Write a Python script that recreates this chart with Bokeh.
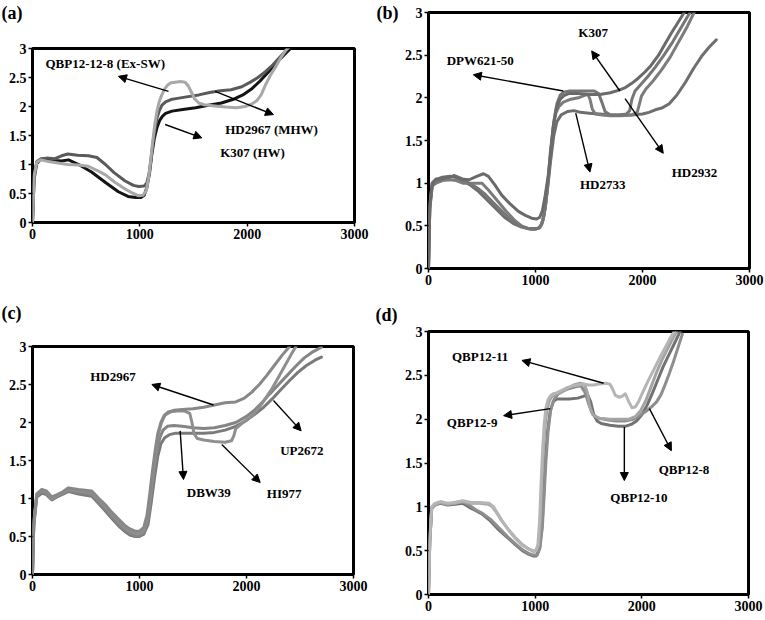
from bokeh.plotting import figure
from bokeh.models import Range1d, FixedTicker, Arrow, NormalHead, LinearAxis, ColumnDataSource, Title
from bokeh.layouts import column, row
from bokeh.core.properties import value
from bokeh.embed import file_html
from bokeh.resources import INLINE

# ---------------- axis ticks ----------------
x_ticks = [0, 1000, 2000, 3000]
x_tick_labels = ["0", "1000", "2000", "3000"]
y_ticks = [0, 0.5, 1, 1.5, 2, 2.5, 3]
y_tick_labels = ["0", "0.5", "1", "1.5", "2", "2.5", "3"]
panel_tags = ["(a)", "(b)", "(c)", "(d)"]

# ---------------- panel (a) ----------------
a_x_k307 = [0, 15, 40, 80, 130, 200, 270, 335, 430, 550, 680, 800, 890, 960, 1010, 1040, 1065, 1090, 1112, 1135,
            1160, 1185, 1210, 1240, 1300, 1400, 1520, 1640, 1760, 1880, 1960, 2040, 2120, 2200, 2280, 2350, 2420, 2450]
a_y_k307 = [0, 0.75, 1.02, 1.09, 1.1, 1.07, 1.06, 1.08, 1.0, 0.87, 0.69, 0.53, 0.45, 0.43, 0.43, 0.47, 0.6, 0.85, 1.18, 1.45,
            1.64, 1.76, 1.83, 1.88, 1.92, 1.95, 1.98, 2.02, 2.06, 2.13, 2.2, 2.3, 2.44, 2.6, 2.77, 2.9, 3.03, 3.08]
a_x_hd2967 = [0, 15, 40, 80, 130, 210, 270, 330, 420, 520, 600, 680, 760, 860, 940, 990, 1040, 1065, 1087, 1105,
              1120, 1140, 1160, 1180, 1205, 1240, 1290, 1350, 1450, 1550, 1650, 1750, 1850, 1950, 2030, 2100, 2170,
              2240, 2300, 2360, 2400]
a_y_hd2967 = [0, 0.8, 1.05, 1.1, 1.11, 1.1, 1.15, 1.18, 1.16, 1.15, 1.12, 1.0, 0.86, 0.72, 0.64, 0.62, 0.63, 0.68, 0.85, 1.1,
              1.35, 1.6, 1.8, 1.92, 2.02, 2.08, 2.12, 2.14, 2.17, 2.2, 2.24, 2.27, 2.29, 2.34, 2.42, 2.5, 2.6,
              2.72, 2.84, 2.96, 3.04]
a_x_qbp = [0, 15, 40, 80, 150, 250, 330, 430, 520, 600, 680, 770, 860, 940, 990, 1030, 1060, 1080, 1100, 1120,
           1140, 1160, 1180, 1205, 1230, 1260, 1290, 1330, 1380, 1420, 1450, 1480, 1510, 1550, 1600, 1700, 1800, 1900,
           1980, 2040, 2090, 2130, 2170, 2220, 2270, 2320, 2360, 2400]
a_y_qbp = [0, 0.8, 1.04, 1.08, 1.05, 1.02, 1.0, 0.99, 0.97, 0.9, 0.82, 0.69, 0.58, 0.5, 0.46, 0.47, 0.55, 0.75, 1.05, 1.4,
           1.7, 1.92, 2.08, 2.2, 2.3, 2.37, 2.41, 2.42, 2.43, 2.42, 2.36, 2.25, 2.13, 2.06, 2.03, 2.01, 1.99, 1.98,
           2.0, 2.04, 2.1, 2.2, 2.37, 2.55, 2.7, 2.86, 2.97, 3.05]
a_labels = ["QBP12-12-8 (Ex-SW)", "HD2967 (MHW)", "K307 (HW)"]
a_label_x = [121, 1795, 1749]
a_label_y = [2.74, 1.6, 1.2]
a_arrow_x0 = [1267, 1702, 1236]
a_arrow_y0 = [2.26, 2.26, 1.69]
a_arrow_x1 = [801, 2245, 1578]
a_arrow_y1 = [2.52, 1.86, 1.46]

# ---------------- panel (b) ----------------
b_x_dpw = [0, 12, 35, 70, 120, 180, 240, 300, 380, 450, 514, 560, 620, 684, 760, 840, 910, 964, 1010, 1040,
           1065, 1090, 1120, 1145, 1167, 1195, 1229, 1270, 1310, 1400, 1500, 1600, 1700, 1780, 1840, 1900, 1960,
           2020, 2080, 2150, 2210, 2270, 2330, 2390, 2430]
b_y_dpw = [0, 0.75, 1.0, 1.05, 1.05, 1.07, 1.08, 1.05, 1.04, 1.08, 1.11, 1.08, 0.98, 0.86, 0.76, 0.67, 0.62, 0.59, 0.58, 0.6,
           0.68, 0.85, 1.1, 1.4, 1.68, 1.88, 1.98, 2.03, 2.05, 2.05, 2.04, 2.04, 2.06, 2.09, 2.12, 2.17, 2.23,
           2.3, 2.38, 2.5, 2.63, 2.76, 2.88, 3.0, 3.06]
b_x_k307 = [0, 12, 35, 70, 130, 200, 240, 300, 380, 450, 520, 600, 680, 760, 840, 900, 950, 1000, 1040, 1070,
            1095, 1120, 1150, 1175, 1200, 1230, 1270, 1320, 1400, 1480, 1550, 1590, 1620, 1650, 1700, 1780, 1850,
            1880, 1900, 1930, 1980, 2050, 2120, 2200, 2280, 2350, 2420, 2470]
b_y_k307 = [0, 0.7, 0.98, 1.02, 1.05, 1.07, 1.09, 1.06, 1.0, 0.95, 0.88, 0.78, 0.68, 0.58, 0.51, 0.48, 0.46, 0.46, 0.48, 0.56,
            0.75, 1.05, 1.45, 1.75, 1.93, 2.03, 2.07, 2.08, 2.08, 2.08, 2.08, 2.05, 1.95, 1.84, 1.8, 1.8, 1.81,
            1.85, 1.98, 2.08, 2.15, 2.25, 2.36, 2.5, 2.65, 2.8, 2.95, 3.05]
b_x_hd2733 = [0, 12, 35, 70, 130, 200, 260, 320, 400, 500, 560, 640, 720, 800, 870, 930, 980, 1030, 1060, 1090,
              1115, 1140, 1165, 1190, 1220, 1260, 1320, 1400, 1460, 1490, 1510, 1530, 1560, 1620, 1700, 1800, 1900,
              1950, 1970, 1990, 2030, 2100, 2180, 2260, 2340, 2420, 2490]
b_y_hd2733 = [0, 0.7, 0.97, 1.0, 1.03, 1.04, 1.03, 1.0, 1.0, 1.0, 0.92, 0.8, 0.68, 0.57, 0.5, 0.47, 0.46, 0.47, 0.52, 0.7,
              1.0, 1.38, 1.65, 1.82, 1.9, 1.95, 1.98, 2.0, 2.03, 2.04, 1.98, 1.87, 1.81, 1.8, 1.79, 1.79, 1.8,
              1.83, 1.92, 2.02, 2.1, 2.2, 2.33, 2.48, 2.66, 2.84, 3.02]
b_x_hd2932 = [0, 12, 35, 70, 130, 200, 250, 320, 400, 470, 550, 630, 710, 790, 860, 920, 970, 1020, 1050, 1080,
              1110, 1140, 1170, 1200, 1240, 1300, 1360, 1420, 1500, 1600, 1700, 1800, 1900, 2000, 2060, 2120, 2180,
              2250, 2320, 2400, 2480, 2560, 2620, 2690]
b_y_hd2932 = [0, 0.72, 1.0, 1.04, 1.07, 1.08, 1.07, 1.03, 0.97, 0.9, 0.8, 0.7, 0.6, 0.53, 0.49, 0.47, 0.47, 0.47, 0.5, 0.62,
              0.9, 1.25, 1.55, 1.72, 1.8, 1.84, 1.85, 1.83, 1.82, 1.81, 1.8, 1.8, 1.8, 1.81, 1.83, 1.86, 1.88,
              1.93, 2.03, 2.18, 2.35, 2.5, 2.59, 2.68]
b_labels = ["DPW621-50", "K307", "HD2733", "HD2932"]
b_label_x = [170, 1400, 1416, 2273]
b_label_y = [2.44, 2.77, 0.98, 1.13]
b_arrow_x0 = [1260, 1789, 1376, 1837]
b_arrow_y0 = [2.08, 2.08, 1.82, 1.99]
b_arrow_x1 = [419, 1525, 1509, 2194]
b_arrow_y1 = [2.27, 2.55, 1.13, 1.35]

# ---------------- panel (c) ----------------
c_x_hd2967 = [0, 12, 40, 87, 130, 181, 230, 274, 336, 430, 554, 620, 679, 740, 804, 860, 910, 960, 1000, 1040,
              1070, 1095, 1120, 1145, 1170, 1200, 1230, 1270, 1320, 1400, 1500, 1600, 1700, 1800, 1900, 1980, 2050,
              2120, 2190, 2260, 2330, 2390, 2430]
c_y_hd2967 = [0, 0.7, 1.06, 1.12, 1.1, 1.02, 1.05, 1.08, 1.14, 1.12, 1.1, 1.0, 0.92, 0.82, 0.73, 0.65, 0.6, 0.57, 0.57, 0.62,
              0.78, 1.05, 1.35, 1.62, 1.85, 2.0, 2.09, 2.14, 2.16, 2.17, 2.18, 2.2, 2.23, 2.26, 2.27, 2.32, 2.4,
              2.5, 2.62, 2.75, 2.88, 2.98, 3.05]
c_x_hi977 = [0, 12, 40, 87, 130, 181, 230, 274, 336, 430, 554, 620, 679, 740, 804, 860, 910, 960, 1000, 1040,
             1070, 1100, 1125, 1150, 1175, 1205, 1240, 1290, 1350, 1420, 1470, 1490, 1510, 1540, 1600, 1700, 1800,
             1860, 1880, 1900, 1950, 2000, 2060, 2120, 2180, 2240, 2300, 2360, 2420, 2470]
c_y_hi977 = [0, 0.68, 1.05, 1.1, 1.08, 1.0, 1.04, 1.07, 1.12, 1.1, 1.08, 0.98, 0.9, 0.8, 0.7, 0.62, 0.57, 0.54, 0.54, 0.58,
             0.72, 1.0, 1.3, 1.6, 1.84, 2.0, 2.1, 2.14, 2.15, 2.15, 2.12, 2.0, 1.85, 1.79, 1.77, 1.75, 1.74,
             1.76, 1.82, 1.92, 1.98, 2.03, 2.1, 2.2, 2.32, 2.45, 2.6, 2.75, 2.9, 3.02]
c_x_dbw39 = [0, 12, 40, 87, 130, 181, 230, 274, 336, 430, 554, 620, 679, 740, 804, 860, 910, 960, 1000, 1040,
             1075, 1105, 1130, 1160, 1190, 1220, 1260, 1320, 1400, 1500, 1600, 1700, 1800, 1900, 2000, 2080, 2150,
             2220, 2300, 2380, 2460, 2540, 2620, 2700]
c_y_dbw39 = [0, 0.66, 1.04, 1.09, 1.07, 0.99, 1.03, 1.06, 1.1, 1.08, 1.05, 0.95, 0.86, 0.76, 0.66, 0.59, 0.54, 0.51, 0.51, 0.55,
             0.7, 1.0, 1.3, 1.6, 1.8, 1.9, 1.95, 1.96, 1.95, 1.93, 1.92, 1.93, 1.96, 2.0, 2.08, 2.17, 2.27,
             2.38, 2.5, 2.62, 2.74, 2.85, 2.93, 2.99]
c_x_up2672 = [0, 12, 40, 87, 130, 181, 230, 274, 336, 430, 554, 620, 679, 740, 804, 860, 910, 960, 1000, 1040,
              1080, 1110, 1140, 1170, 1200, 1235, 1280, 1340, 1400, 1500, 1600, 1700, 1800, 1900, 2000, 2080, 2160,
              2240, 2320, 2400, 2480, 2560, 2640, 2700]
c_y_up2672 = [0, 0.64, 1.02, 1.07, 1.05, 0.98, 1.02, 1.05, 1.09, 1.06, 1.03, 0.93, 0.84, 0.74, 0.64, 0.57, 0.52, 0.5, 0.5, 0.53,
              0.66, 0.95, 1.27, 1.55, 1.72, 1.8, 1.84, 1.86, 1.86, 1.86, 1.86, 1.87, 1.9, 1.95, 2.03, 2.11, 2.2,
              2.31, 2.43, 2.55, 2.66, 2.75, 2.82, 2.86]
c_labels = ["HD2967", "UP2672", "DBW39", "HI977"]
c_label_x = [539, 2315, 1442, 2190]
c_label_y = [2.61, 1.63, 1.08, 1.06]
c_arrow_x0 = [1692, 2252, 1380, 1769]
c_arrow_y0 = [2.23, 2.29, 1.89, 1.71]
c_arrow_x1 = [1115, 2511, 1411, 2128]
c_arrow_y1 = [2.5, 1.89, 1.25, 1.21]

# ---------------- panel (d) ----------------
d_x_q10 = [0, 12, 30, 60, 110, 180, 250, 320, 375, 440, 500, 580, 657, 740, 813, 880, 938, 980, 1010, 1040,
           1063, 1080, 1095, 1115, 1142, 1170, 1200, 1250, 1320, 1400, 1450, 1490, 1520, 1550, 1580, 1620, 1700,
           1780, 1850, 1900, 1950, 2000, 2050, 2100, 2150, 2200, 2260, 2320, 2370]
d_y_q10 = [0, 0.6, 0.98, 1.02, 1.04, 1.02, 1.03, 1.04, 1.0, 0.96, 0.92, 0.84, 0.74, 0.65, 0.57, 0.5, 0.46, 0.44, 0.44, 0.52,
           0.76, 1.15, 1.52, 1.85, 2.1, 2.2, 2.23, 2.23, 2.23, 2.24, 2.26, 2.28, 2.2, 2.05, 1.98, 1.95, 1.93,
           1.92, 1.92, 1.94, 1.98, 2.05, 2.16, 2.3, 2.45, 2.6, 2.75, 2.9, 3.03]
d_x_q8 = [0, 12, 30, 60, 110, 180, 250, 320, 380, 440, 500, 580, 660, 740, 813, 880, 938, 985, 1020, 1045,
          1068, 1085, 1100, 1120, 1145, 1175, 1210, 1260, 1320, 1380, 1430, 1470, 1500, 1530, 1560, 1600, 1680,
          1760, 1840, 1920, 1990, 2050, 2100, 2140, 2180, 2220, 2260, 2300, 2340, 2380]
d_y_q8 = [0, 0.62, 0.99, 1.03, 1.05, 1.03, 1.05, 1.06, 1.02, 0.97, 0.93, 0.86, 0.76, 0.66, 0.58, 0.51, 0.47, 0.45, 0.45, 0.53,
          0.78, 1.15, 1.5, 1.85, 2.1, 2.22, 2.28, 2.32, 2.35, 2.37, 2.38, 2.3, 2.18, 2.08, 2.03, 2.01, 1.99,
          1.98, 1.98, 2.0, 2.05, 2.1, 2.15, 2.2, 2.28, 2.4, 2.53, 2.67, 2.82, 2.97]
d_x_q9 = [0, 12, 30, 60, 110, 180, 250, 320, 400, 480, 560, 600, 640, 688, 750, 813, 880, 938, 985, 1010,
          1032, 1050, 1063, 1080, 1095, 1110, 1130, 1150, 1173, 1200, 1250, 1300, 1360, 1420, 1460, 1490, 1510,
          1540, 1600, 1700, 1800, 1880, 1940, 1990, 2040, 2090, 2140, 2190, 2240, 2290, 2340]
d_y_q9 = [0, 0.6, 0.98, 1.02, 1.05, 1.03, 1.04, 1.06, 1.04, 1.04, 1.03, 1.0, 0.93, 0.84, 0.74, 0.65, 0.57, 0.52, 0.49, 0.5,
          0.58, 0.9, 1.33, 1.7, 1.95, 2.1, 2.2, 2.25, 2.27, 2.29, 2.31, 2.35, 2.39, 2.41, 2.4, 2.3, 2.15,
          2.05, 2.01, 2.0, 2.0, 2.0, 2.03, 2.1, 2.22, 2.38, 2.54, 2.68, 2.8, 2.92, 3.03]
d_x_q11 = [0, 12, 30, 60, 110, 180, 250, 320, 400, 480, 570, 610, 650, 700, 760, 820, 880, 938, 980, 1005,
           1025, 1042, 1055, 1070, 1085, 1100, 1120, 1145, 1170, 1200, 1250, 1300, 1350, 1400, 1450, 1500, 1550,
           1600, 1660, 1700, 1720, 1752, 1790, 1814, 1845, 1877, 1908, 1939, 1970, 2002, 2060, 2127, 2180, 2221,
           2260, 2299, 2320]
d_y_q11 = [0, 0.62, 1.0, 1.04, 1.06, 1.04, 1.05, 1.07, 1.05, 1.05, 1.04, 1.0, 0.92, 0.82, 0.72, 0.63, 0.56, 0.52, 0.5, 0.5,
           0.56, 0.85, 1.25, 1.65, 1.95, 2.12, 2.22, 2.27, 2.29, 2.3, 2.33, 2.36, 2.38, 2.39, 2.4, 2.39, 2.39,
           2.4, 2.41, 2.4, 2.36, 2.27, 2.25, 2.26, 2.29, 2.2, 2.13, 2.14, 2.2, 2.29, 2.44, 2.6, 2.73, 2.82,
           2.91, 2.99, 3.04]
d_labels = ["QBP12-11", "QBP12-9", "QBP12-10", "QBP12-8"]
d_label_x = [220, 172, 1705, 2158]
d_label_y = [2.72, 1.96, 1.11, 1.43]
d_arrow_x0 = [1642, 1142, 1836, 2071]
d_arrow_y0 = [2.41, 2.12, 1.91, 2.12]
d_arrow_x1 = [876, 704, 1836, 2277]
d_arrow_y1 = [2.67, 2.04, 1.30, 1.64]

FONT = "Liberation Serif"


def make_panel(fw, fh, bl, br, bt, bb, curves, labels, lx, ly, ax0, ay0, ax1, ay1):
    p = figure(frame_width=fw, frame_height=fh, min_border_left=bl, min_border_right=br,
               min_border_top=bt, min_border_bottom=bb,
               x_range=Range1d(0, 3000), y_range=Range1d(0, 3),
               output_backend="svg", toolbar_location=None, tools="")
    if "frame_align" in p.properties():
        p.frame_align = False
    p.grid.visible = False
    p.background_fill_color = "white"
    p.border_fill_color = "white"
    p.outline_line_color = "black"
    p.outline_line_width = 3
    p.outline_line_alpha = 1
    for ax in (p.xaxis[0], p.yaxis[0]):
        ax.axis_line_color = None
        ax.major_tick_in = 0
        ax.major_tick_out = 4
        ax.major_tick_line_color = "black"
        ax.major_tick_line_width = 1.5
        ax.minor_tick_line_color = None
        ax.major_label_text_font = FONT
        ax.major_label_text_font_style = "bold"
        ax.major_label_text_font_size = "14px"
        ax.major_label_text_color = "black"
        ax.major_label_standoff = 2
    p.xaxis.ticker = FixedTicker(ticks=x_ticks)
    p.xaxis.major_label_overrides = {t: s for t, s in zip(x_ticks, x_tick_labels)}
    p.yaxis.ticker = FixedTicker(ticks=y_ticks)
    p.yaxis.major_label_overrides = {t: s for t, s in zip(y_ticks, y_tick_labels)}

    for xs, ys, col in curves:
        p.line(xs, ys, line_color=col, line_width=3, line_join="round", line_cap="round")

    src = ColumnDataSource(dict(x=lx, y=ly, text=labels))
    p.text(x="x", y="y", text="text", source=src, text_font=value(FONT), text_font_style="bold",
           text_font_size="13px", text_baseline="middle", text_align="left", text_color="black")

    asrc = ColumnDataSource(dict(x0=ax0, y0=ay0, x1=ax1, y1=ay1))
    p.add_layout(Arrow(end=NormalHead(size=8, fill_color="black", line_color="black", line_width=1),
                       x_start="x0", y_start="y0", x_end="x1", y_end="y1", source=asrc,
                       line_color="black", line_width=1.4))
    return p


def title_tag(p, tag, offset, standoff, spacer=None, valign="bottom"):
    # optional empty title between the frame and the tag, to lift the tag higher
    if spacer is not None:
        p.add_layout(Title(text=" ", text_font=FONT, text_font_size="18px", standoff=spacer), "above")
    p.title.text = tag
    p.title.align = "left"
    p.title.vertical_align = valign
    p.title.offset = offset
    p.title.standoff = standoff
    p.title.text_font = FONT
    p.title.text_font_style = "bold"
    p.title.text_font_size = "18px"
    p.title.text_color = "black"


def axis_tag(p, tag):
    ax = LinearAxis(ticker=FixedTicker(ticks=[3]), major_label_overrides={3: tag})
    ax.axis_line_color = None
    ax.major_tick_line_color = None
    ax.minor_tick_line_color = None
    ax.major_tick_in = 0
    ax.major_tick_out = 0
    ax.major_label_standoff = 3
    ax.major_label_text_font = FONT
    ax.major_label_text_font_style = "bold"
    ax.major_label_text_font_size = "18px"
    ax.major_label_text_color = "black"
    p.add_layout(ax, "left")


pa = make_panel(322, 174, 32, 18, 48, 78,
                [(a_x_k307, a_y_k307, "#141414"), (a_x_hd2967, a_y_hd2967, "#5a5a5a"),
                 (a_x_qbp, a_y_qbp, "#a8a8a8")],
                a_labels, a_label_x, a_label_y, a_arrow_x0, a_arrow_y0, a_arrow_x1, a_arrow_y1)
title_tag(pa, panel_tags[0], -31, 0, spacer=4)

pb = make_panel(321, 256, 56, 15, 12, 32,
                [(b_x_hd2932, b_y_hd2932, "#6e6e6e"), (b_x_hd2733, b_y_hd2733, "#7c7c7c"),
                 (b_x_k307, b_y_k307, "#767676"), (b_x_dpw, b_y_dpw, "#6a6a6a")],
                b_labels, b_label_x, b_label_y, b_arrow_x0, b_arrow_y0, b_arrow_x1, b_arrow_y1)
axis_tag(pb, panel_tags[1])

pc = make_panel(321, 228, 32, 19, 46, 45,
                [(c_x_up2672, c_y_up2672, "#7a7a7a"), (c_x_dbw39, c_y_dbw39, "#858585"),
                 (c_x_hi977, c_y_hi977, "#8f8f8f"), (c_x_hd2967, c_y_hd2967, "#888888")],
                c_labels, c_label_x, c_label_y, c_arrow_x0, c_arrow_y0, c_arrow_x1, c_arrow_y1)
title_tag(pc, panel_tags[2], -31, 0, spacer=2)

pd_ = make_panel(320, 263, 56, 16, 30, 26,
                 [(d_x_q10, d_y_q10, "#727272"), (d_x_q8, d_y_q8, "#8e8e8e"),
                  (d_x_q9, d_y_q9, "#a4a4a4"), (d_x_q11, d_y_q11, "#b5b5b5")],
                 d_labels, d_label_x, d_label_y, d_arrow_x0, d_arrow_y0, d_arrow_x1, d_arrow_y1)
title_tag(pd_, panel_tags[3], -53, 9, valign="top")

layout = column(row(pa, pb), row(pc, pd_))
open("out.html", "w").write(file_html(layout, INLINE))
